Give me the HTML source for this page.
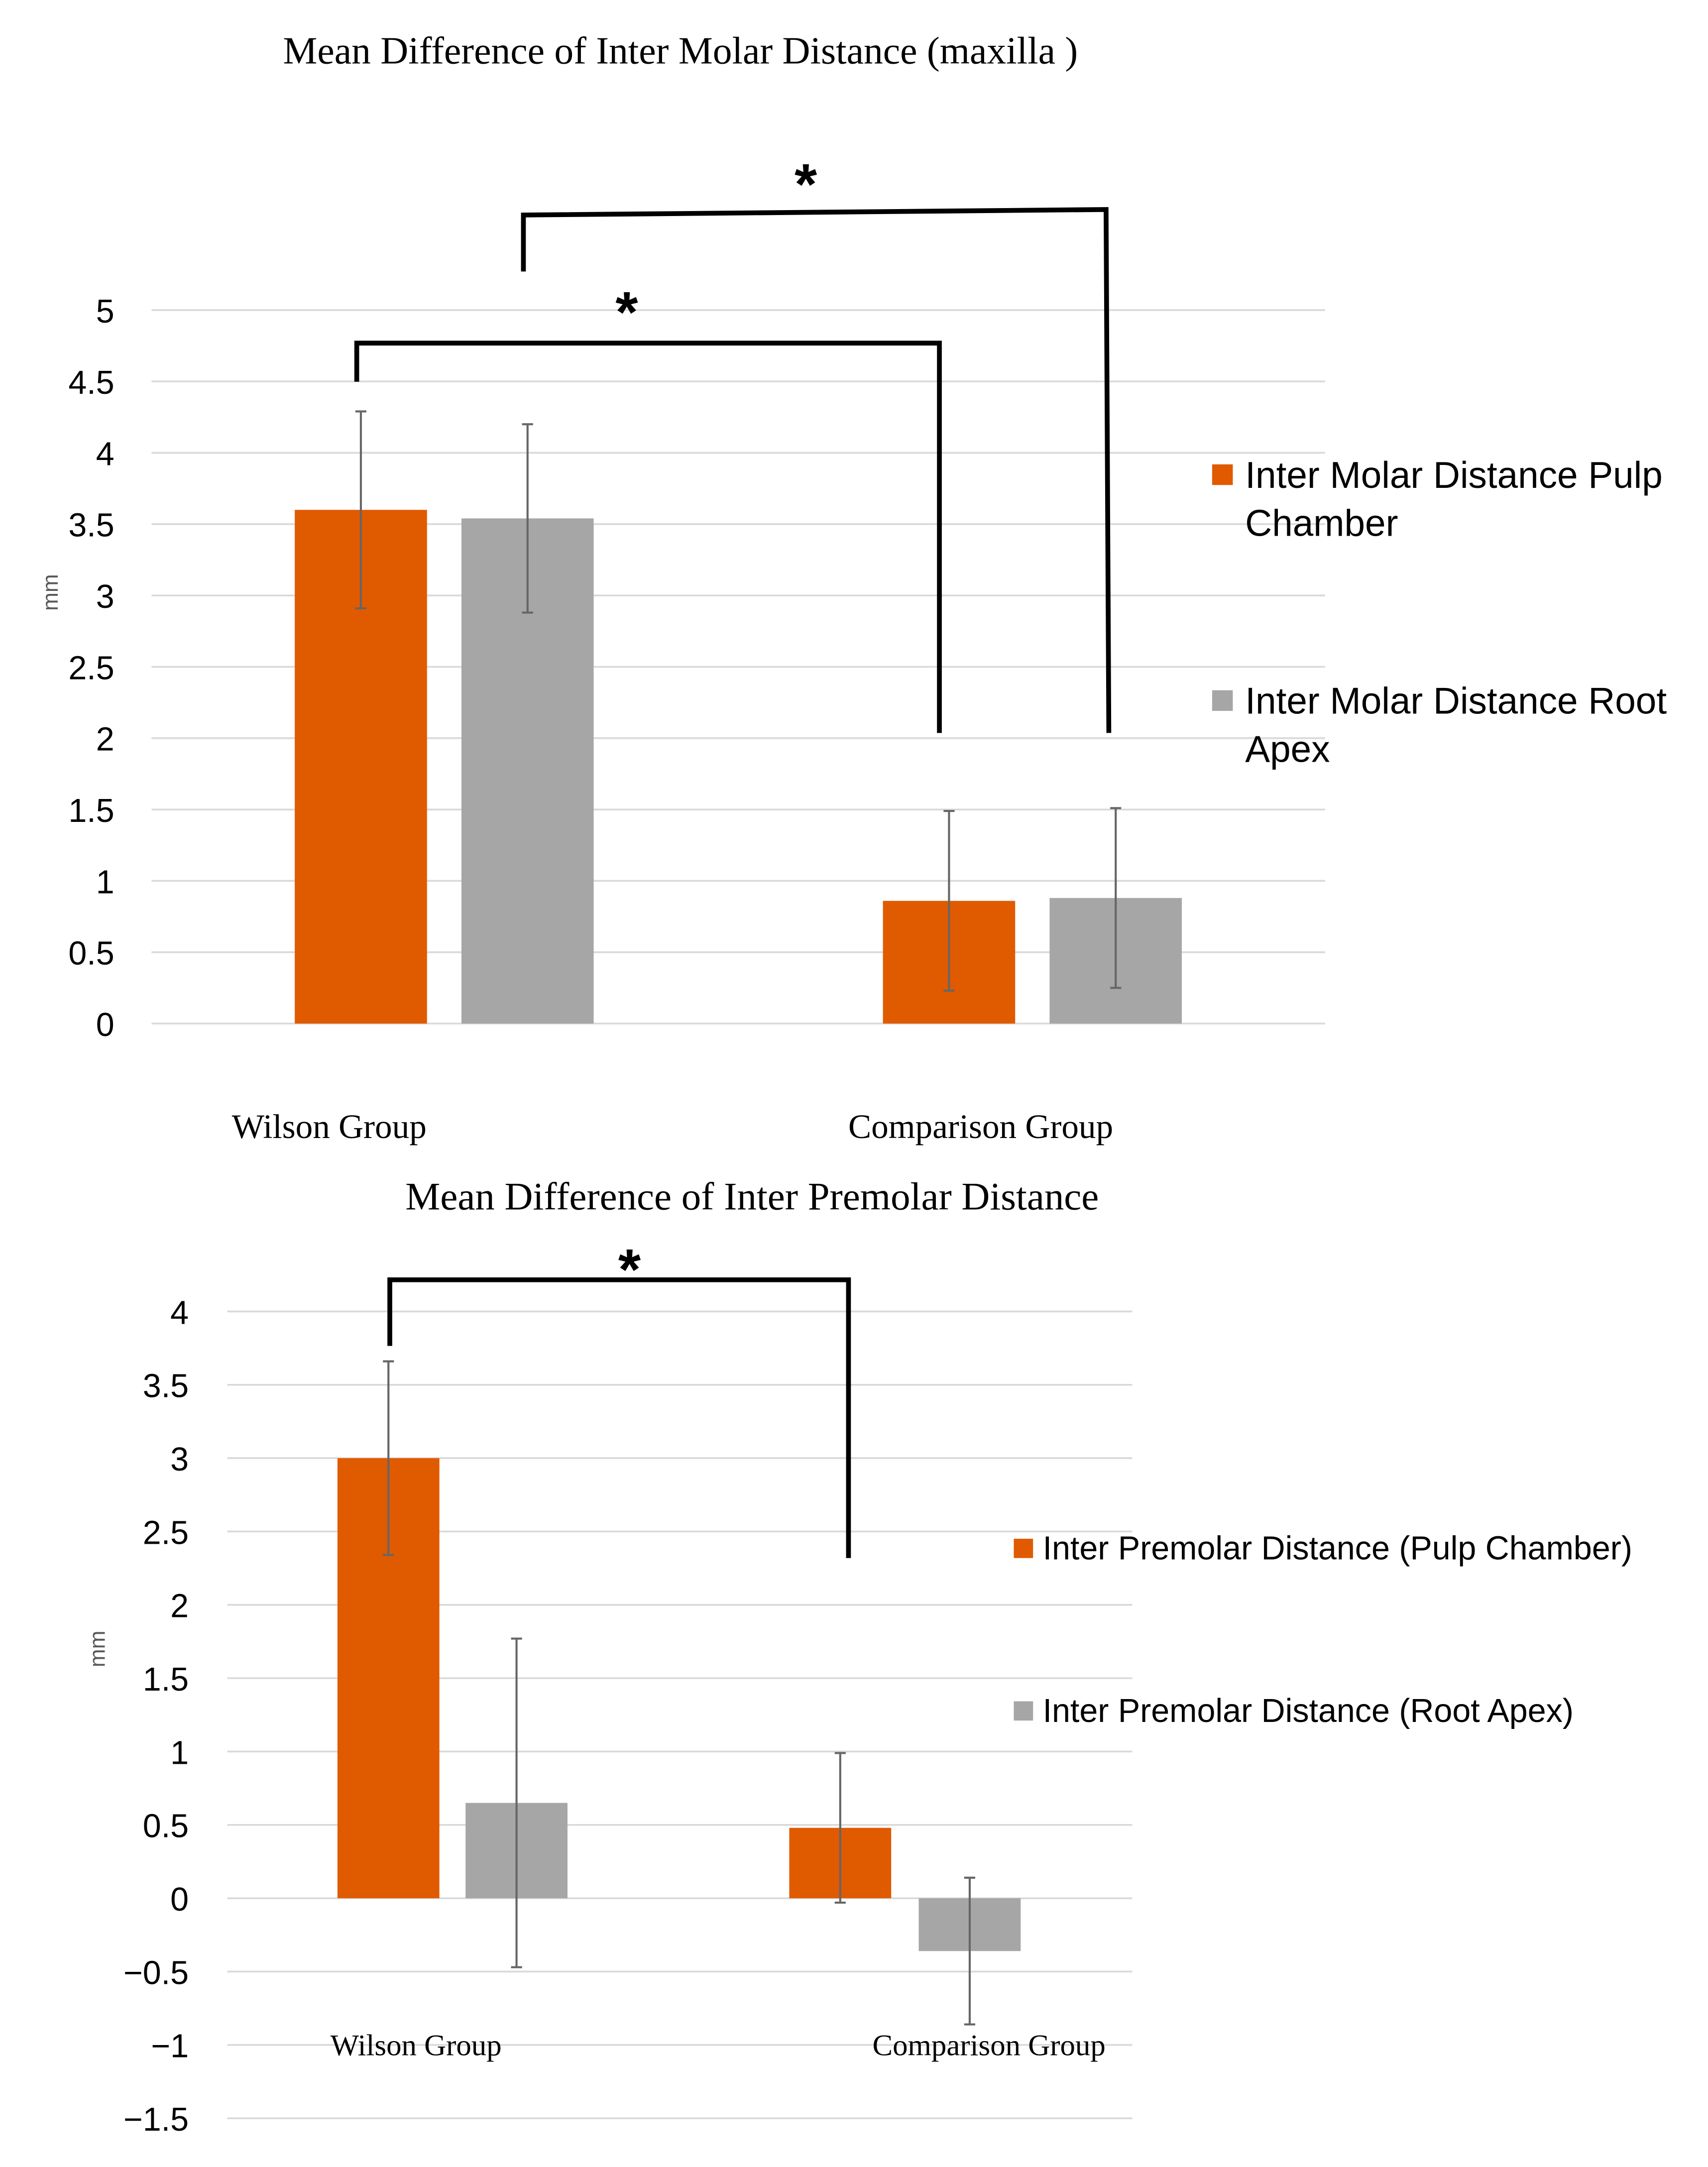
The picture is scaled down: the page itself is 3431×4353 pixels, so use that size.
<!DOCTYPE html>
<html><head><meta charset="utf-8"><style>html,body{margin:0;padding:0;background:#fff}svg{display:block}</style></head>
<body>
<svg id="root" xmlns="http://www.w3.org/2000/svg" width="3431" height="4353" viewBox="0 0 1240 1573">
<g id="c1"></g>
<g id="c2"></g>
</svg>
<script>
const NS='http://www.w3.org/2000/svg';
// Chart 1 data
const cats1=['Wilson Group','Comparison Group'];
const pulp1=[3.6,0.86];
const root1=[3.54,0.88];
const pulpErr1=[0.69,0.63];
const rootErr1=[0.66,0.63];
const ticks1=['0','0.5','1','1.5','2','2.5','3','3.5','4','4.5','5'];
// Chart 2 data
const cats2=['Wilson Group','Comparison Group'];
const pulp2=[3.0,0.48];
const root2=[0.65,-0.36];
const pulpErr2=[0.66,0.51];
const rootErr2=[1.12,0.5];
const ticks2=['\u22121.5','\u22121','\u22120.5','0','0.5','1','1.5','2','2.5','3','3.5','4'];

function el(parent,tag,attrs,text){const e=document.createElementNS(NS,tag);for(const k in attrs)e.setAttribute(k,attrs[k]);if(text!==undefined)e.textContent=text;parent.appendChild(e);return e;}
const SANS='"Liberation Sans", sans-serif', SERIF='"Liberation Serif", serif';

function drawChart(g,cfg){
  const y=v=>cfg.y0-(v)*cfg.unit;
  cfg.ticks.forEach(t=>{
    const v=parseFloat(t.replace('\u2212','-'));
    const l=el(g,'line',{x1:cfg.gx0,x2:cfg.gx1,y1:y(v),y2:y(v),stroke:'#d9d9d9','stroke-width':1.3});
    
    
    const tx=el(g,'text',{x:cfg.tickX,y:y(v)+9,'text-anchor':'end','font-family':SANS,'font-size':24,fill:'#000'},t);
    
    
  });
  const series=[[cfg.pulp,cfg.pulpErr,'#e05a00',cfg.bx[0]],[cfg.root,cfg.rootErr,'#a6a6a6',cfg.bx[1]]];
  series.forEach((s,si)=>{
    s[0].forEach((v,i)=>{
      const x=s[3][i];
      const r=el(g,'rect',{x:x,y:Math.min(y(v),y(0)),width:cfg.bw,height:Math.abs(y(v)-y(0)),fill:s[2]});
      
      
      const cx=x+cfg.bw/2,hi=y(v+s[1][i]),lo=y(v-s[1][i]);
      const e=el(g,'path',{d:`M${cx},${hi}V${lo}M${cx-4},${hi}H${cx+4}M${cx-4},${lo}H${cx+4}`,stroke:'#666','stroke-width':1.5,fill:'none'});
      
      
    });
  });
}

const g1=document.getElementById('c1');
drawChart(g1,{y0:743,unit:103.6,gx0:110,gx1:962,tickX:83,ticks:ticks1,pulp:pulp1,root:root1,pulpErr:pulpErr1,rootErr:rootErr1,bw:96,bx:[[214,641],[335,762]]});
const g2=document.getElementById('c2');
drawChart(g2,{y0:1378,unit:106.5,gx0:165,gx1:822,tickX:137,ticks:ticks2,pulp:pulp2,root:root2,pulpErr:pulpErr2,rootErr:rootErr2,bw:74,bx:[[245,573],[338,667]]});
</script>
<svg style="position:absolute;left:0;top:0" width="3431" height="4353" viewBox="0 0 1240 1573">
<g font-family="Liberation Serif, serif" fill="#000">
<text x="494" y="46" text-anchor="middle" font-size="28">Mean Difference of Inter Molar Distance (maxilla )</text>
<text x="239" y="826" text-anchor="middle" font-size="25">Wilson Group</text>
<text x="712" y="826" text-anchor="middle" font-size="25">Comparison Group</text>
<text x="546" y="878" text-anchor="middle" font-size="28.5">Mean Difference of Inter Premolar Distance</text>
<text x="302" y="1492" text-anchor="middle" font-size="22">Wilson Group</text>
<text x="718" y="1492" text-anchor="middle" font-size="22">Comparison Group</text>
</g>
<g font-family="Liberation Sans, sans-serif" fill="#595959" font-size="16">
<text transform="translate(42,430) rotate(-90)" text-anchor="middle">mm</text>
<text transform="translate(76,1197) rotate(-90)" text-anchor="middle">mm</text>
</g>
<g font-family="Liberation Sans, sans-serif" fill="#000" font-size="27">
<rect x="880" y="337" width="15" height="15" fill="#e05a00"/>
<text x="904" y="354">Inter Molar Distance Pulp</text>
<text x="904" y="389">Chamber</text>
<rect x="880" y="501" width="15" height="15" fill="#a6a6a6"/>
<text x="904" y="518">Inter Molar Distance Root</text>
<text x="904" y="553">Apex</text>
<rect x="736" y="1117" width="14" height="14" fill="#e05a00"/>
<text x="757" y="1132" font-size="24">Inter Premolar Distance (Pulp Chamber)</text>
<rect x="736" y="1235" width="14" height="14" fill="#a6a6a6"/>
<text x="757" y="1250" font-size="24">Inter Premolar Distance (Root Apex)</text>
</g>
<g stroke="#000" stroke-width="3.5" fill="none">
<path d="M259,277V249H682V532"/>
<path d="M380,197V156L803,152L805,532"/>
<path d="M283,977V929H616V1131"/>
</g>
<g font-family="Liberation Sans, sans-serif" font-weight="bold" font-size="42" text-anchor="middle">
<text x="455" y="241">*</text>
<text x="585" y="148">*</text>
<text x="457" y="936">*</text>
</g>
</svg>
</body></html>
